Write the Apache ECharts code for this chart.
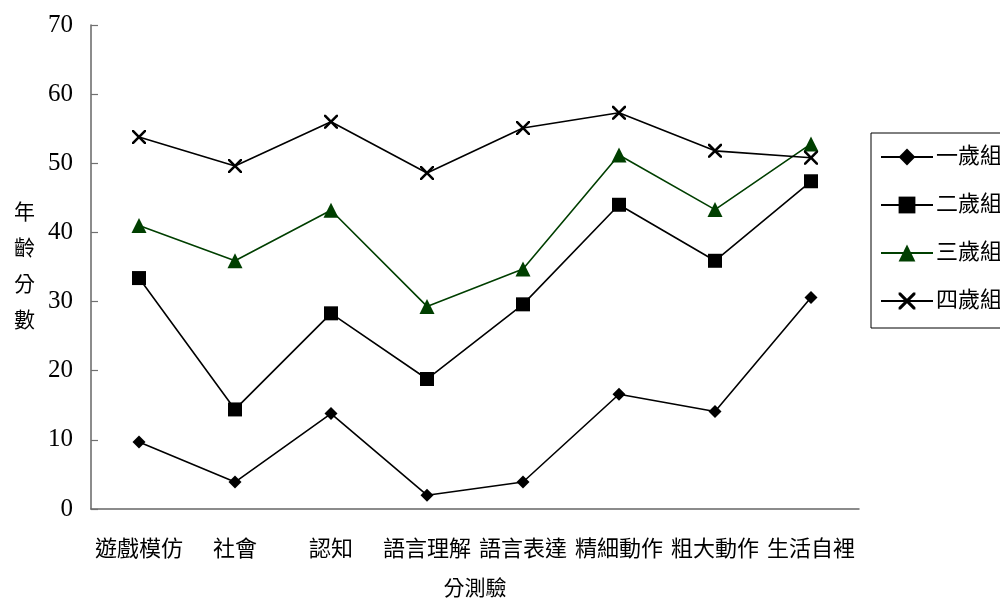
<!DOCTYPE html>
<html>
<head>
<meta charset="utf-8">
<script src="https://cdn.jsdelivr.net/npm/echarts@6/dist/echarts.min.js"></script>
<style>
  html, body { margin: 0; padding: 0; background: #fff; }
  #chart { width: 1000px; height: 600px; }
</style>
</head>
<body>
<div id="chart"></div>
<script>
// 分測驗 categories
const categories = ['遊戲模仿', '社會', '認知', '語言理解', '語言表達', '精細動作', '粗大動作', '生活自裡'];

// 各年齡組的年齡分數
const age1 = [9.7, 3.9, 13.8, 2.0, 3.9, 16.6, 14.1, 30.6];
const age2 = [33.4, 14.4, 28.3, 18.8, 29.6, 44.0, 35.9, 47.4];
const age3 = [41.0, 35.9, 43.2, 29.3, 34.7, 51.2, 43.3, 52.8];
const age4 = [53.8, 49.6, 56.0, 48.6, 55.1, 57.3, 51.8, 50.8];

const seriesNames = ['一歲組', '二歲組', '三歲組', '四歲組'];
const yTicks = { min: 0, max: 70, interval: 10 };

const FONT = "'Liberation Serif', 'Noto Sans CJK TC', serif";
const CROSS = 'path://M0,0L1.3,0L5,3.7L8.7,0L10,0L10,1.3L6.3,5L10,8.7L10,10L8.7,10L5,6.3L1.3,10L0,10L0,8.7L3.7,5L0,1.3Z';

function lineSeries(name, data, symbol, size, color) {
  return {
    name: name,
    type: 'line',
    data: data,
    symbol: symbol,
    symbolSize: size,
    showAllSymbol: true,
    lineStyle: { color: color, width: 1.6 },
    itemStyle: { color: color },
    emphasis: { disabled: true },
    animation: false
  };
}

const chart = echarts.init(document.getElementById('chart'));
chart.setOption({
  backgroundColor: '#ffffff',
  textStyle: { fontFamily: FONT },
  grid: { left: 91, right: 141, top: 25, bottom: 91, containLabel: false, outerBoundsMode: 'none' },
  legend: {
    orient: 'vertical',
    left: 871,
    top: 133,
    padding: [13, 12, 16, 9],
    itemGap: 26,
    itemWidth: 52,
    itemHeight: 21,
    borderColor: '#000',
    borderWidth: 1,
    backgroundColor: '#fff',
    textStyle: { fontFamily: FONT, fontSize: 22, color: '#000', padding: [0, 0, 0, -2] },
    data: seriesNames
  },
  xAxis: {
    type: 'category',
    data: categories,
    boundaryGap: true,
    name: '分測驗',
    nameLocation: 'middle',
    nameGap: 70,
    nameTextStyle: { fontFamily: FONT, fontSize: 21, color: '#000' },
    axisLine: { lineStyle: { color: '#666666', width: 1.5 } },
    axisTick: { inside: true, length: 6, interval: 0, lineStyle: { color: '#707070', width: 1.2 } },
    axisLabel: { interval: 0, margin: 30, fontFamily: FONT, fontSize: 22, color: '#000' },
    splitLine: { show: false }
  },
  yAxis: {
    type: 'value',
    min: yTicks.min,
    max: yTicks.max,
    interval: yTicks.interval,
    name: '年\n齡\n分\n數',
    nameLocation: 'middle',
    nameRotate: 0,
    nameGap: 56,
    nameTextStyle: { fontFamily: FONT, fontSize: 21, color: '#000', lineHeight: 36 },
    axisLine: { show: true, lineStyle: { color: '#666666', width: 1.5 } },
    axisTick: { show: true, inside: true, length: 7, lineStyle: { color: '#707070', width: 1.2 } },
    axisLabel: { margin: 18, fontFamily: FONT, fontSize: 25, color: '#000' },
    splitLine: { show: false }
  },
  series: [
    lineSeries(seriesNames[0], age1, 'diamond', 13, '#000000'),
    lineSeries(seriesNames[1], age2, 'rect', 14, '#000000'),
    lineSeries(seriesNames[2], age3, 'triangle', 15, '#003f00'),
    lineSeries(seriesNames[3], age4, CROSS, 14, '#000000')
  ]
});
</script>
</body>
</html>
